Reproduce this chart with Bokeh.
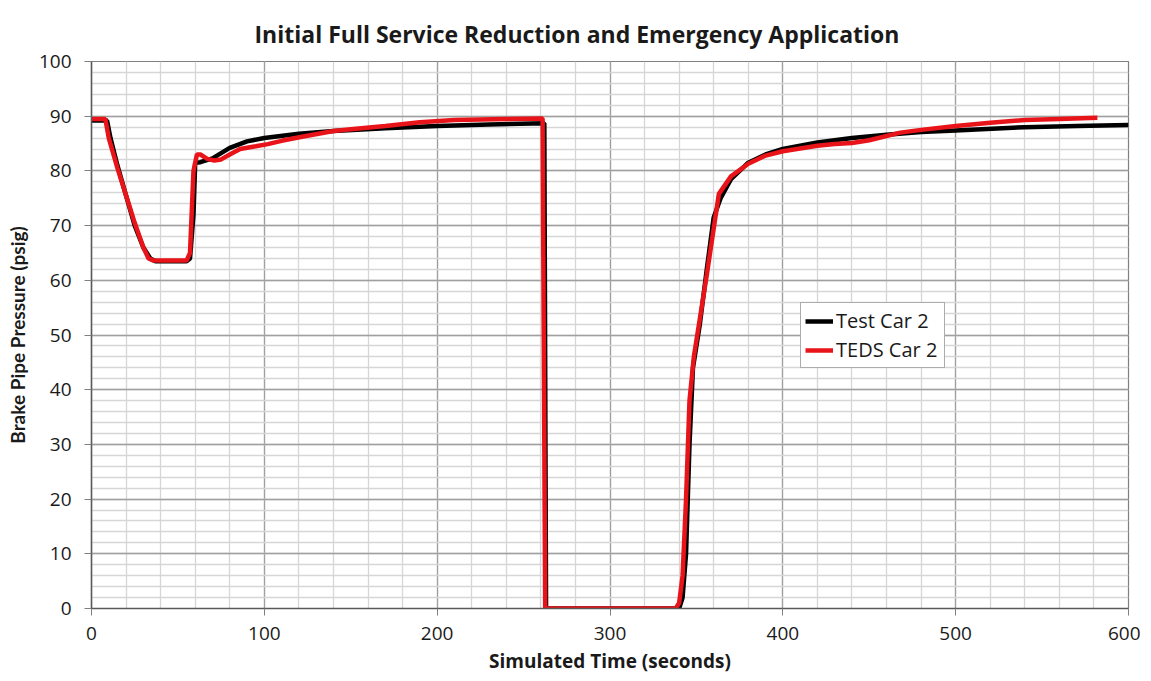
from bokeh.plotting import figure
from bokeh.models import SingleIntervalTicker, Range1d, BoxAnnotation
from bokeh.embed import file_html
from bokeh.resources import INLINE

# ---- data ----
test_t = [0, 9, 11, 15, 20, 25, 30, 34, 37, 55, 57, 59, 60, 63, 70, 80, 90, 100,
          120, 140, 170, 200, 230, 262, 263, 300, 340, 342, 344, 346, 348, 352,
          356, 360, 364, 370, 380, 390, 400, 420, 440, 460, 480, 500, 540, 570, 600]
test_p = [89.2, 89.2, 86.0, 81.0, 75.5, 70.0, 66.0, 64.0, 63.5, 63.5, 64.0, 72.0,
          81.5, 81.6, 82.3, 84.2, 85.4, 86.0, 86.8, 87.3, 87.8, 88.2, 88.5, 88.7,
          0.0, 0.0, 0.0, 2.0, 10.0, 30.0, 44.0, 52.0, 62.0, 71.5, 75.0, 78.5,
          81.5, 83.0, 84.0, 85.2, 86.0, 86.6, 87.1, 87.4, 88.0, 88.2, 88.4]

teds_t = [0, 8, 10, 15, 20, 25, 30, 33, 36, 55, 57, 59, 61, 63, 67, 71, 75, 80,
          86, 95, 102, 110, 121, 140, 150, 170, 190, 210, 240, 261, 262.5, 300,
          338, 340, 342, 344, 346, 348.5, 356, 363, 370, 380, 390, 400, 420, 430,
          440, 450, 468, 480, 500, 520, 540, 560, 582]
teds_p = [89.5, 89.5, 86.0, 80.5, 75.5, 70.5, 66.0, 64.0, 63.6, 63.6, 65.0, 80.0,
          83.0, 83.0, 82.2, 81.9, 82.1, 83.0, 84.0, 84.5, 84.9, 85.5, 86.2, 87.3,
          87.6, 88.2, 88.9, 89.3, 89.5, 89.6, 0.0, 0.0, 0.0, 1.0, 6.0, 20.0, 38.0,
          46.0, 61.0, 75.8, 79.0, 81.3, 82.8, 83.6, 84.6, 84.9, 85.1, 85.6, 87.0,
          87.5, 88.2, 88.8, 89.3, 89.5, 89.7]

series_names = ["Test Car 2", "TEDS Car 2"]
title_text = "Initial Full Service Reduction and Emergency Application"
x_label = "Simulated Time (seconds)"
y_label = "Brake Pipe Pressure (psig)"

FONT = "Open Sans"
TXT = "#1a1a1a"

p = figure(width=1140, height=676, output_backend="svg", toolbar_location=None,
           x_range=Range1d(0, 600), y_range=Range1d(0, 100),
           min_border_left=91, min_border_right=12, min_border_top=61,
           min_border_bottom=68)

p.title.text = title_text
p.title.text_font = FONT
p.title.text_font_size = "23px"
p.title.text_font_style = "bold"
p.title.text_color = TXT
p.title.align = "left"
p.title.offset = 163
p.title.standoff = 24

xt = SingleIntervalTicker(interval=100, num_minor_ticks=5)
yt = SingleIntervalTicker(interval=10, num_minor_ticks=5)
p.xaxis.ticker = xt
p.yaxis.ticker = yt

for ax in (p.xaxis, p.yaxis):
    ax.major_label_text_font = FONT
    ax.major_label_text_font_size = "19px"
    ax.major_label_text_color = TXT
    ax.axis_label_text_font = FONT
    ax.axis_label_text_font_size = "19px"
    ax.axis_label_text_font_style = "bold"
    ax.axis_label_text_color = TXT
    ax.minor_tick_line_color = None
    ax.major_tick_out = 7
    ax.major_tick_in = 0
    ax.major_tick_line_color = "#7f7f7f"
    ax.axis_line_color = "#595959"
    ax.axis_line_width = 1.5

p.yaxis.axis_label_text_font = "Lato"
p.xaxis.axis_label = x_label
p.yaxis.axis_label = y_label
p.xaxis.major_label_standoff = 11
p.yaxis.major_label_standoff = 13
p.xaxis.axis_label_standoff = 5
p.yaxis.axis_label_standoff = 7

for g in (p.xgrid, p.ygrid):
    g.grid_line_color = "#a0a0a0"
    g.grid_line_width = 1.3
    g.minor_grid_line_color = "#d6d6d6"
    g.minor_grid_line_width = 1.3

p.outline_line_color = "#7f7f7f"
p.outline_line_width = 1.2
p.background_fill_color = "white"
p.border_fill_color = "white"

p.line(test_t, test_p, line_color="#000000", line_width=4.5, legend_label=series_names[0])
p.line(teds_t, teds_p, line_color="#e8141a", line_width=4.5, legend_label=series_names[1])

lg = p.legend[0]
lg.location = (709, 240)
lg.label_text_font = FONT
lg.label_text_font_size = "20px"
lg.label_text_color = TXT
lg.label_width = 104
lg.glyph_width = 28
lg.glyph_height = 20
lg.label_standoff = 3
lg.spacing = 2
lg.padding = 4
lg.margin = 0
lg.border_line_color = "#595959"
lg.border_line_width = 1
lg.background_fill_alpha = 1.0

# thin outer chart-area border
outer = BoxAnnotation(left=4, right=1136, top=6, bottom=674,
                      left_units="canvas", right_units="canvas",
                      top_units="canvas", bottom_units="canvas",
                      fill_alpha=0, line_color="#bdbdbd", line_width=1.2,
                      level="underlay")
p.add_layout(outer)

open("out.html", "w").write(file_html(p, INLINE))
